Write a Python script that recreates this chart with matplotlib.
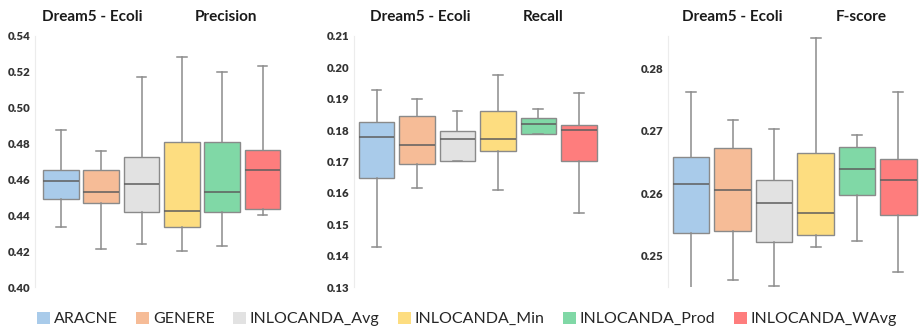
import matplotlib
matplotlib.use("Agg")
import matplotlib.pyplot as plt
from matplotlib.patches import Patch

# Box summaries (whisker low, Q1, median, Q3, whisker high) per method
METHODS = ["ARACNE", "GENERE", "INLOCANDA_Avg", "INLOCANDA_Min",
           "INLOCANDA_Prod", "INLOCANDA_WAvg"]
COLORS = ["#a9cbea", "#f6bc97", "#e2e2e2", "#fddd80", "#80d8a6", "#fe7d7d"]

precision_low = [0.4336, 0.4212, 0.4241, 0.4202, 0.4226, 0.4401]
precision_q1 = [0.4490, 0.4471, 0.4421, 0.4334, 0.4421, 0.4433]
precision_med = [0.4594, 0.4529, 0.4574, 0.4425, 0.4529, 0.4652]
precision_q3 = [0.4654, 0.4655, 0.4724, 0.4808, 0.4806, 0.4765]
precision_high = [0.4878, 0.4756, 0.5170, 0.5281, 0.5198, 0.5235]

recall_low = [0.1429, 0.1617, 0.1701, 0.1609, 0.1787, 0.1536]
recall_q1 = [0.1647, 0.1691, 0.1701, 0.1735, 0.1787, 0.1701]
recall_med = [0.1779, 0.1754, 0.1773, 0.1773, 0.1818, 0.1799]
recall_q3 = [0.1826, 0.1846, 0.1798, 0.1861, 0.1840, 0.1817]
recall_high = [0.1929, 0.1899, 0.1861, 0.1977, 0.1866, 0.1919]

fscore_low = [0.2449, 0.2461, 0.2452, 0.2514, 0.2523, 0.2474]
fscore_q1 = [0.2536, 0.2539, 0.2522, 0.2533, 0.2598, 0.2565]
fscore_med = [0.2615, 0.2605, 0.2584, 0.2568, 0.2639, 0.2621]
fscore_q3 = [0.2658, 0.2672, 0.2621, 0.2664, 0.2674, 0.2655]
fscore_high = [0.2763, 0.2717, 0.2703, 0.2848, 0.2694, 0.2763]

PANELS = [
    ("Precision", (precision_low, precision_q1, precision_med, precision_q3, precision_high),
     (0.40, 0.54), [0.40, 0.42, 0.44, 0.46, 0.48, 0.50, 0.52, 0.54], "%.2f"),
    ("Recall", (recall_low, recall_q1, recall_med, recall_q3, recall_high),
     (0.13, 0.21), [0.13, 0.14, 0.15, 0.16, 0.17, 0.18, 0.19, 0.20, 0.21], "%.2f"),
    ("F-score", (fscore_low, fscore_q1, fscore_med, fscore_q3, fscore_high),
     (0.245, 0.2852), [0.25, 0.26, 0.27, 0.28], "%.2f"),
]

W, H = 924, 329
# axes placement in pixels: left, right, xlim
AXES_PX = [(35, 290, (-0.64, 5.68)), (354, 603, (-0.56, 5.60)), (668, 920, (-0.56, 5.52))]
TOP, BOTTOM = 36, 287
TITLE_X = [(92, 226), (420, 543), (732, 861)]

fig = plt.figure(figsize=(W / 100, H / 100), dpi=100)

for (name, (lo, q1, med, q3, hi), ylim, ticks, fmt), (l, r, xlim), (tx1, tx2) in zip(PANELS, AXES_PX, TITLE_X):
    ax = fig.add_axes([l / W, 1 - BOTTOM / H, (r - l) / W, (BOTTOM - TOP) / H])
    stats = [dict(whislo=a, q1=b, med=c, q3=d, whishi=e, fliers=[])
             for a, b, c, d, e in zip(lo, q1, med, q3, hi)]
    bp = ax.bxp(stats, positions=range(len(stats)), widths=0.88, capwidths=0.24,
                patch_artist=True, showfliers=False,
                boxprops=dict(edgecolor="#8a8a8a", linewidth=1.0),
                medianprops=dict(color="#5e5e5e", linewidth=1.1),
                whiskerprops=dict(color="#8c8c8c", linewidth=1.1),
                capprops=dict(color="#8c8c8c", linewidth=1.1))
    for box, c in zip(bp["boxes"], COLORS):
        box.set_facecolor(c)
    ax.set_xlim(*xlim)
    ax.set_ylim(*ylim)
    ax.set_yticks(ticks)
    ax.set_yticklabels([fmt % t for t in ticks], fontfamily="Lato",
                       fontweight="heavy", fontsize=8.2, color="#333333")
    ax.set_xticks([])
    ax.tick_params(axis="y", length=0, pad=3)
    for s in ["top", "right", "bottom"]:
        ax.spines[s].set_visible(False)
    ax.spines["left"].set_color("#ececec")
    ax.spines["left"].set_linewidth(0.8)

    fig.text(tx1 / W, 1 - 17 / H, "Dream5 - Ecoli", ha="center", va="center",
             fontfamily="Lato", fontweight="bold", fontsize=11, color="#1a1a1a")
    fig.text(tx2 / W, 1 - 17 / H, name, ha="center", va="center",
             fontfamily="Lato", fontweight="bold", fontsize=11, color="#1a1a1a")

handles = [Patch(facecolor=c, edgecolor="none", label=m) for m, c in zip(METHODS, COLORS)]
fig.legend(handles=handles, loc="center", bbox_to_anchor=(467 / W, 1 - 319 / H),
           ncol=6, frameon=False, prop=dict(family="Lato", size=11.5),
           handlelength=0.8, handleheight=0.8, handletextpad=0.25,
           columnspacing=1.15, borderaxespad=0, labelcolor="#262626")

fig.savefig("out.png", dpi=100)
